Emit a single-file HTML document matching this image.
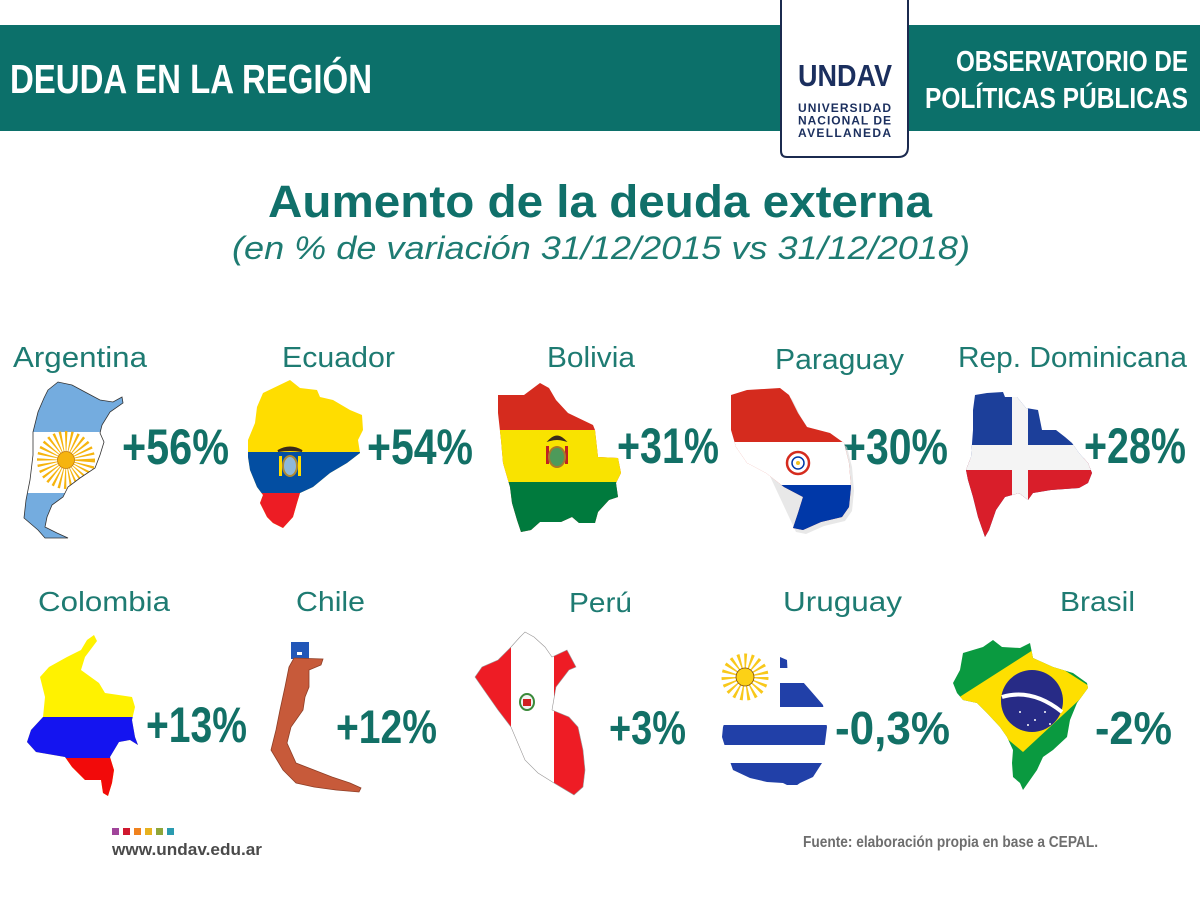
<!DOCTYPE html>
<html>
<head>
<meta charset="utf-8">
<style>
html,body{margin:0;padding:0;background:#fff;}
svg{display:block;}
text{font-family:"Liberation Sans",sans-serif;}
</style>
</head>
<body>
<svg width="1200" height="900" viewBox="0 0 1200 900" xmlns="http://www.w3.org/2000/svg">
<defs>
<clipPath id="arg"><polygon points="48,390 58,382 72,385 85,392 100,400 113,402 122,397 123,403 110,412 102,425 100,433 104,442 100,455 95,468 80,478 68,487 63,497 52,505 47,517 45,527 57,533 68,538 45,538 38,530 24,518 26,500 30,480 33,455 33,432 38,412 44,398"/></clipPath>
<clipPath id="ecu"><polygon points="263,393 290,380 300,388 317,390 320,397 333,400 350,410 362,415 363,430 358,440 360,453 347,463 330,473 313,487 300,493 297,503 293,517 283,528 273,523 267,517 260,503 263,495 257,487 250,470 248,457 248,440 255,423 257,407"/></clipPath>
<clipPath id="bol"><polygon points="498,395 524,395 540,383 549,388 556,400 568,413 593,425 595,430 598,457 618,458 621,473 616,483 618,497 609,500 598,512 595,523 579,523 572,517 561,522 540,522 531,530 521,532 517,520 512,503 510,487 503,463 501,440 498,413"/></clipPath>
<clipPath id="par"><polygon points="731,395 747,390 780,388 789,395 798,413 807,427 830,433 844,443 849,463 851,487 849,507 842,517 821,522 803,530 793,528 798,513 803,497 784,487 766,473 747,463 736,447 731,430 731,413"/></clipPath>
<clipPath id="dom"><polygon points="975,395 987,393 1003,392 1005,397 1017,397 1026,408 1038,410 1042,430 1056,430 1065,437 1072,443 1079,453 1088,463 1092,473 1088,483 1079,488 1051,490 1033,493 1028,500 1019,493 1005,497 996,510 989,530 985,537 978,517 973,497 968,480 966,470 971,457 973,430 973,410"/></clipPath>
<clipPath id="col"><polygon points="94,635 97,641 85,657 81,670 99,683 105,693 132,697 135,707 132,720 135,737 138,745 130,740 119,742 110,757 114,770 112,783 108,796 103,793 101,780 85,780 72,767 65,757 36,752 27,742 31,730 43,717 45,697 40,677 49,667 67,657 81,650 87,640"/></clipPath>
<clipPath id="per"><polygon points="525,632 534,637 545,647 552,657 567,650 576,667 569,670 556,687 552,710 569,717 578,727 583,750 585,770 583,787 574,795 554,783 538,773 525,760 511,727 498,710 484,690 475,677 482,667 498,660 511,647 520,637"/></clipPath>
<clipPath id="uru"><polygon points="780,657 787,660 788,680 803,682 810,690 823,705 827,727 825,743 822,763 813,777 800,783 793,788 783,783 767,782 750,778 733,770 727,753 722,737 723,727 728,713 730,690 740,662"/></clipPath>
<clipPath id="bra"><polygon points="963,653 983,647 993,640 1002,647 1020,648 1030,643 1033,658 1053,667 1073,673 1087,683 1088,688 1077,703 1070,720 1067,737 1053,750 1043,757 1037,770 1030,780 1023,790 1020,783 1013,777 1012,763 1013,750 1007,737 1000,727 987,713 977,703 963,700 957,693 953,683 960,670"/></clipPath>
</defs>

<!-- Header band -->
<rect x="0" y="25" width="1200" height="106" fill="#0c706a"/>
<text x="10" y="93" font-size="41" font-weight="bold" fill="#ffffff" textLength="362" lengthAdjust="spacingAndGlyphs">DEUDA EN LA REGIÓN</text>
<text x="1188" y="71" font-size="29" font-weight="bold" fill="#ffffff" text-anchor="end" textLength="232" lengthAdjust="spacingAndGlyphs">OBSERVATORIO DE</text>
<text x="1188" y="108" font-size="29" font-weight="bold" fill="#ffffff" text-anchor="end" textLength="263" lengthAdjust="spacingAndGlyphs">POLÍTICAS PÚBLICAS</text>

<!-- Logo box -->
<path d="M781,-2 L781,151 Q781,157 787,157 L898,157 Q908,157 908,147 L908,-2 Z" fill="#ffffff" stroke="#1b2a4f" stroke-width="2"/>
<text x="798" y="86" font-size="31" font-weight="bold" fill="#1b2f5e" textLength="94" lengthAdjust="spacingAndGlyphs">UNDAV</text>
<text x="798" y="112" font-size="12" font-weight="bold" fill="#1b2f5e" textLength="93" lengthAdjust="spacing">UNIVERSIDAD</text>
<text x="798" y="124.5" font-size="12" font-weight="bold" fill="#1b2f5e" textLength="93" lengthAdjust="spacing">NACIONAL DE</text>
<text x="798" y="137" font-size="12" font-weight="bold" fill="#1b2f5e" textLength="93" lengthAdjust="spacing">AVELLANEDA</text>

<!-- Title -->
<text x="268" y="217" font-size="45" font-weight="bold" fill="#10706a" textLength="664" lengthAdjust="spacingAndGlyphs">Aumento de la deuda externa</text>
<text x="232" y="259" font-size="32" font-style="italic" fill="#1e7b72" textLength="738" lengthAdjust="spacingAndGlyphs">(en % de variación 31/12/2015 vs 31/12/2018)</text>

<!-- Row 1 labels -->
<g fill="#1e7b72" font-size="29">
<text x="13" y="367" textLength="134" lengthAdjust="spacingAndGlyphs">Argentina</text>
<text x="282" y="367" textLength="113" lengthAdjust="spacingAndGlyphs">Ecuador</text>
<text x="547" y="367" textLength="88" lengthAdjust="spacingAndGlyphs">Bolivia</text>
<text x="775" y="369" textLength="129" lengthAdjust="spacingAndGlyphs">Paraguay</text>
<text x="958" y="367" textLength="229" lengthAdjust="spacingAndGlyphs">Rep. Dominicana</text>
</g>
<!-- Row 2 labels -->
<g fill="#1e7b72" font-size="28">
<text x="38" y="611" textLength="132" lengthAdjust="spacingAndGlyphs">Colombia</text>
<text x="296" y="611" textLength="69" lengthAdjust="spacingAndGlyphs">Chile</text>
<text x="569" y="612" textLength="63" lengthAdjust="spacingAndGlyphs">Perú</text>
<text x="783" y="611" textLength="119" lengthAdjust="spacingAndGlyphs">Uruguay</text>
<text x="1060" y="611" textLength="75" lengthAdjust="spacingAndGlyphs">Brasil</text>
</g>

<!-- Percentages -->
<g fill="#127066" font-weight="bold">
<text x="122" y="464" font-size="50" textLength="107" lengthAdjust="spacingAndGlyphs">+56%</text>
<text x="367" y="464" font-size="50" textLength="106" lengthAdjust="spacingAndGlyphs">+54%</text>
<text x="617" y="463" font-size="50" textLength="102" lengthAdjust="spacingAndGlyphs">+31%</text>
<text x="842" y="464" font-size="50" textLength="106" lengthAdjust="spacingAndGlyphs">+30%</text>
<text x="1084" y="463" font-size="50" textLength="102" lengthAdjust="spacingAndGlyphs">+28%</text>
<text x="146" y="742" font-size="50" textLength="101" lengthAdjust="spacingAndGlyphs">+13%</text>
<text x="336" y="743" font-size="47" textLength="101" lengthAdjust="spacingAndGlyphs">+12%</text>
<text x="609" y="744" font-size="47" textLength="77" lengthAdjust="spacingAndGlyphs">+3%</text>
<text x="835" y="744" font-size="46" textLength="115" lengthAdjust="spacingAndGlyphs">-0,3%</text>
<text x="1095" y="744" font-size="46" textLength="77" lengthAdjust="spacingAndGlyphs">-2%</text>
</g>

<!-- Argentina -->
<g clip-path="url(#arg)">
<rect x="0" y="370" width="140" height="180" fill="#74acdf"/>
<rect x="0" y="432" width="140" height="61" fill="#ffffff"/>
<circle cx="66" cy="460" r="18" fill="none" stroke="#f6b40e" stroke-width="22" stroke-dasharray="1.6 2.4"/>
<circle cx="66" cy="460" r="8.5" fill="#f6b40e" stroke="#c07a10" stroke-width="0.8"/>
</g>
<polygon points="48,390 58,382 72,385 85,392 100,400 113,402 122,397 123,403 110,412 102,425 100,433 104,442 100,455 95,468 80,478 68,487 63,497 52,505 47,517 45,527 57,533 68,538 45,538 38,530 24,518 26,500 30,480 33,455 33,432 38,412 44,398" fill="none" stroke="#333" stroke-width="0.8"/>

<!-- Ecuador -->
<g clip-path="url(#ecu)">
<rect x="240" y="370" width="130" height="170" fill="#ffdd00"/>
<rect x="240" y="452" width="130" height="41" fill="#034ea2"/>
<rect x="240" y="493" width="130" height="50" fill="#ed1c24"/>
</g>
<g>
<path d="M278,451 Q290,444 302,451 Q290,449 278,451 Z" fill="#3a2a1a" stroke="#3a2a1a" stroke-width="2"/>
<rect x="279" y="456" width="3" height="20" fill="#ffdd00"/>
<rect x="298" y="456" width="3" height="20" fill="#ffdd00"/>
<ellipse cx="290" cy="466" rx="7" ry="10" fill="#8fb8d8" stroke="#b08a30" stroke-width="2"/>
</g>

<!-- Bolivia -->
<g clip-path="url(#bol)">
<rect x="490" y="375" width="140" height="165" fill="#d52b1e"/>
<rect x="490" y="430" width="140" height="52" fill="#f9e300"/>
<rect x="490" y="482" width="140" height="55" fill="#007a3d"/>
</g>
<g>
<path d="M550,440 Q557,433 564,440 Q557,438 550,440 Z" fill="#3a2a1a" stroke="#3a2a1a" stroke-width="2"/>
<rect x="546" y="446" width="3" height="18" fill="#c02020"/>
<rect x="565" y="446" width="3" height="18" fill="#c02020"/>
<ellipse cx="557" cy="457" rx="8" ry="10" fill="#4d9a5a" stroke="#a77a2a" stroke-width="2"/>
</g>

<!-- Paraguay -->
<polygon points="734,399 750,394 783,392 792,399 801,417 810,431 833,437 847,447 852,467 854,491 852,511 845,521 824,526 806,534 796,532" fill="#d8d8d8" opacity="0.6"/>
<g clip-path="url(#par)">
<rect x="720" y="380" width="140" height="160" fill="#d52b1e"/>
<rect x="720" y="442" width="140" height="43" fill="#ffffff"/>
<rect x="720" y="485" width="140" height="55" fill="#0038a8"/>
</g>
<circle cx="798" cy="463" r="11" fill="#ffffff" stroke="#d52b1e" stroke-width="2.5"/>
<circle cx="798" cy="463" r="6" fill="#ffffff" stroke="#0038a8" stroke-width="1.5"/>
<circle cx="798" cy="463" r="2" fill="#f0c020"/>

<!-- Rep. Dominicana -->
<g clip-path="url(#dom)">
<rect x="960" y="385" width="140" height="160" fill="#1c3f9a"/>
<rect x="960" y="458" width="140" height="90" fill="#d91e2a"/>
<rect x="960" y="445" width="140" height="25" fill="#f4f4f4"/>
<rect x="1012" y="385" width="16" height="160" fill="#f4f4f4"/>
</g>

<!-- Colombia -->
<g clip-path="url(#col)">
<rect x="20" y="630" width="125" height="170" fill="#fff200"/>
<rect x="20" y="717" width="125" height="41" fill="#1414f0"/>
<rect x="20" y="758" width="125" height="45" fill="#f20a0a"/>
</g>

<!-- Chile -->
<rect x="291" y="642" width="18" height="17" fill="#2257b8"/>
<rect x="297" y="652" width="5" height="3" fill="#ffffff"/>
<polygon points="294,658 323,659 321,665 309,670 309,687 305,697 303,710 291,727 287,743 296,763 314,770 332,777 350,783 361,788 359,792 336,790 314,787 296,783 283,770 271,750 276,730 280,710 285,687 289,667" fill="#c75a3a" stroke="#8e3e26" stroke-width="0.8"/>

<!-- Perú -->
<g clip-path="url(#per)">
<rect x="470" y="625" width="120" height="175" fill="#ee1c25"/>
<rect x="511" y="625" width="43" height="175" fill="#ffffff"/>
</g>
<polygon points="525,632 534,637 545,647 552,657 567,650 576,667 569,670 556,687 552,710 569,717 578,727 583,750 585,770 583,787 574,795 554,783 538,773 525,760 511,727 498,710 484,690 475,677 482,667 498,660 511,647 520,637" fill="none" stroke="#999" stroke-width="0.6"/>
<ellipse cx="527" cy="702" rx="7" ry="8" fill="#f3f3f3" stroke="#3a8a3a" stroke-width="2"/>
<rect x="523" y="699" width="8" height="7" fill="#d02020"/>

<!-- Uruguay -->
<g clip-path="url(#uru)">
<rect x="780" y="655" width="60" height="13" fill="#2140a8"/>
<rect x="780" y="683" width="60" height="24" fill="#2140a8"/>
<rect x="700" y="725" width="140" height="20" fill="#2140a8"/>
<rect x="700" y="763" width="140" height="22" fill="#2140a8"/>
</g>
<circle cx="745" cy="677" r="15" fill="none" stroke="#f8c81a" stroke-width="17" stroke-dasharray="2 3"/>
<circle cx="745" cy="677" r="9" fill="#fcd116" stroke="#7b4a10" stroke-width="0.8"/>

<!-- Brasil -->
<g clip-path="url(#bra)">
<rect x="945" y="635" width="150" height="160" fill="#0a9a40"/>
<polygon points="958,698 1033,650 1092,688 1023,752" fill="#fedf00"/>
<circle cx="1032" cy="701" r="31" fill="#272b86"/>
<path d="M1002,697 Q1032,688 1062,712" fill="none" stroke="#ffffff" stroke-width="4"/>
<circle cx="1020" cy="712" r="1" fill="#fff"/><circle cx="1035" cy="720" r="1" fill="#fff"/><circle cx="1045" cy="712" r="1" fill="#fff"/><circle cx="1028" cy="725" r="1" fill="#fff"/><circle cx="1050" cy="724" r="1" fill="#fff"/>
</g>

<!-- Footer -->
<rect x="112" y="828" width="7" height="7" fill="#a0449a"/>
<rect x="123" y="828" width="7" height="7" fill="#d0182f"/>
<rect x="134" y="828" width="7" height="7" fill="#f0821e"/>
<rect x="145" y="828" width="7" height="7" fill="#e7b21f"/>
<rect x="156" y="828" width="7" height="7" fill="#8ea63a"/>
<rect x="167" y="828" width="7" height="7" fill="#2a9bb0"/>
<text x="112" y="855" font-size="17" font-weight="bold" fill="#4a4a4a" textLength="150" lengthAdjust="spacingAndGlyphs">www.undav.edu.ar</text>
<text x="803" y="847" font-size="16" font-weight="bold" fill="#6e6e6e" textLength="295" lengthAdjust="spacingAndGlyphs">Fuente: elaboración propia en base a CEPAL.</text>
</svg>
</body>
</html>
